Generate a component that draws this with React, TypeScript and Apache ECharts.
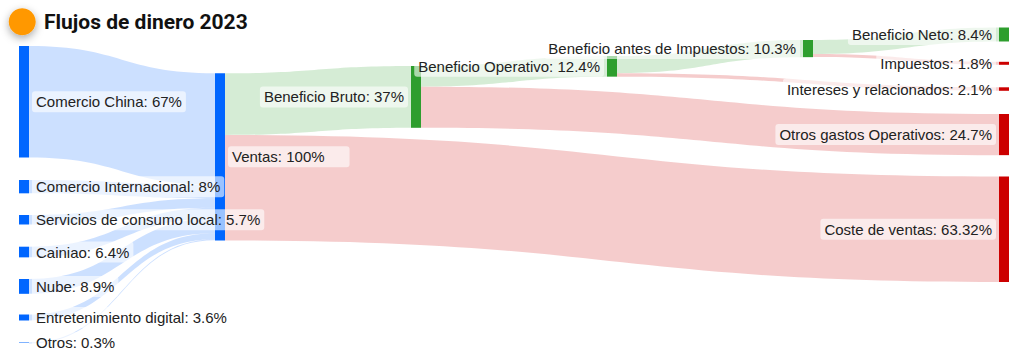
import React, { useEffect, useRef } from "react";
import * as echarts from "echarts";

// ---- Data ----
const nodeNames = [
  "Comercio China",
  "Comercio Internacional",
  "Servicios de consumo local",
  "Cainiao",
  "Nube",
  "Entretenimiento digital",
  "Otros",
  "Ventas",
  "Beneficio Bruto",
  "Beneficio Operativo",
  "Beneficio antes de Impuestos",
  "Beneficio Neto",
  "Impuestos",
  "Intereses y relacionados",
  "Otros gastos Operativos",
  "Coste de ventas",
];
const nodePercents = [67, 8, 5.7, 6.4, 8.9, 3.6, 0.3, 100, 37, 12.4, 10.3, 8.4, 1.8, 2.1, 24.7, 63.32];
const nodeKinds = [
  "income", "income", "income", "income", "income", "income", "income", "income",
  "profit", "profit", "profit", "profit",
  "cost", "cost", "cost", "cost",
];

const linkSources = [
  "Comercio China", "Comercio Internacional", "Servicios de consumo local", "Cainiao", "Nube",
  "Entretenimiento digital", "Otros",
  "Ventas", "Ventas",
  "Beneficio Bruto", "Beneficio Bruto",
  "Beneficio Operativo", "Beneficio Operativo",
  "Beneficio antes de Impuestos", "Beneficio antes de Impuestos",
];
const linkTargets = [
  "Ventas", "Ventas", "Ventas", "Ventas", "Ventas", "Ventas", "Ventas",
  "Beneficio Bruto", "Coste de ventas",
  "Beneficio Operativo", "Otros gastos Operativos",
  "Beneficio antes de Impuestos", "Intereses y relacionados",
  "Beneficio Neto", "Impuestos",
];
const linkValues = [67, 8, 5.7, 6.4, 8.9, 3.6, 0.3, 37, 63.32, 12.4, 24.7, 10.3, 2.1, 8.4, 1.8];

// ---- Layout (vertical placement of each node's top edge, px) ----
const nodeTopPx = [46, 180, 215, 246.7, 279, 314.5, 342.5, 73.3, 66, 56, 40, 27.5, 61.8, 87.3, 114, 176.5];

const CHART_W = 1010;
const CHART_H = 356;
const KIND_COLOR: Record<string, string> = {
  income: "#0066ff",
  profit: "#2e9e2e",
  cost: "#cc0000",
};

export default function App() {
  const ref = useRef<HTMLDivElement>(null);

  useEffect(() => {
    if (!ref.current) return;
    const chart = echarts.init(ref.current, undefined, { renderer: "svg" });
    const colorOf: Record<string, string> = {};
    nodeNames.forEach((n, i) => (colorOf[n] = KIND_COLOR[nodeKinds[i]]));

    const data = nodeNames.map((name, i) => {
      const onRight = i <= 7;
      return {
        name,
        value: nodePercents[i],
        localY: nodeTopPx[i] / CHART_H,
        itemStyle: { color: colorOf[name], borderWidth: 0 },
        label: {
          position: onRight ? "right" : "left",
          padding: name === "Ventas" ? [3, 25, 3, 4] : [3, 4, 3, 4],
        },
      };
    });

    const links = linkSources.map((s, i) => ({
      source: s,
      target: linkTargets[i],
      value: linkValues[i],
      lineStyle: { color: colorOf[linkTargets[i]], opacity: 0.2, curveness: 0.5 },
    }));

    chart.setOption({
      animation: false,
      graphic: [
        {
          type: "circle",
          shape: { cx: 22.2, cy: 21.7, r: 13.5 },
          style: {
            fill: "#ff9800",
            shadowBlur: 8,
            shadowOffsetY: 3,
            shadowColor: "rgba(0,0,0,0.35)",
          },
          z: 10,
        },
        {
          type: "text",
          x: 44,
          y: 21.7,
          style: {
            text: "Flujos de dinero 2023",
            font: "bold 21px Roboto",
            fill: "#111",
            textVerticalAlign: "middle",
          },
          z: 10,
        },
      ],
      series: [
        {
          type: "sankey",
          left: 19,
          right: 1,
          top: 0,
          bottom: 0,
          nodeWidth: 10,
          nodeGap: 31.6,
          layoutIterations: 0,
          nodeAlign: "justify",
          draggable: false,
          silent: true,
          emphasis: { disabled: true },
          label: {
            show: true,
            fontSize: 15,
            fontFamily: "Liberation Sans",
            color: "#222",
            backgroundColor: "rgba(255,255,255,0.6)",
            borderRadius: 3,
            lineHeight: 15,
            distance: 3,
            formatter: "{b}: {c}%",
          },
          itemStyle: { borderWidth: 0 },
          data,
          links,
        },
      ],
    });
    return () => chart.dispose();
  }, []);

  return (
    <div
      ref={ref}
      style={{ position: "absolute", left: 0, top: 0, width: CHART_W, height: CHART_H }}
    />
  );
}
